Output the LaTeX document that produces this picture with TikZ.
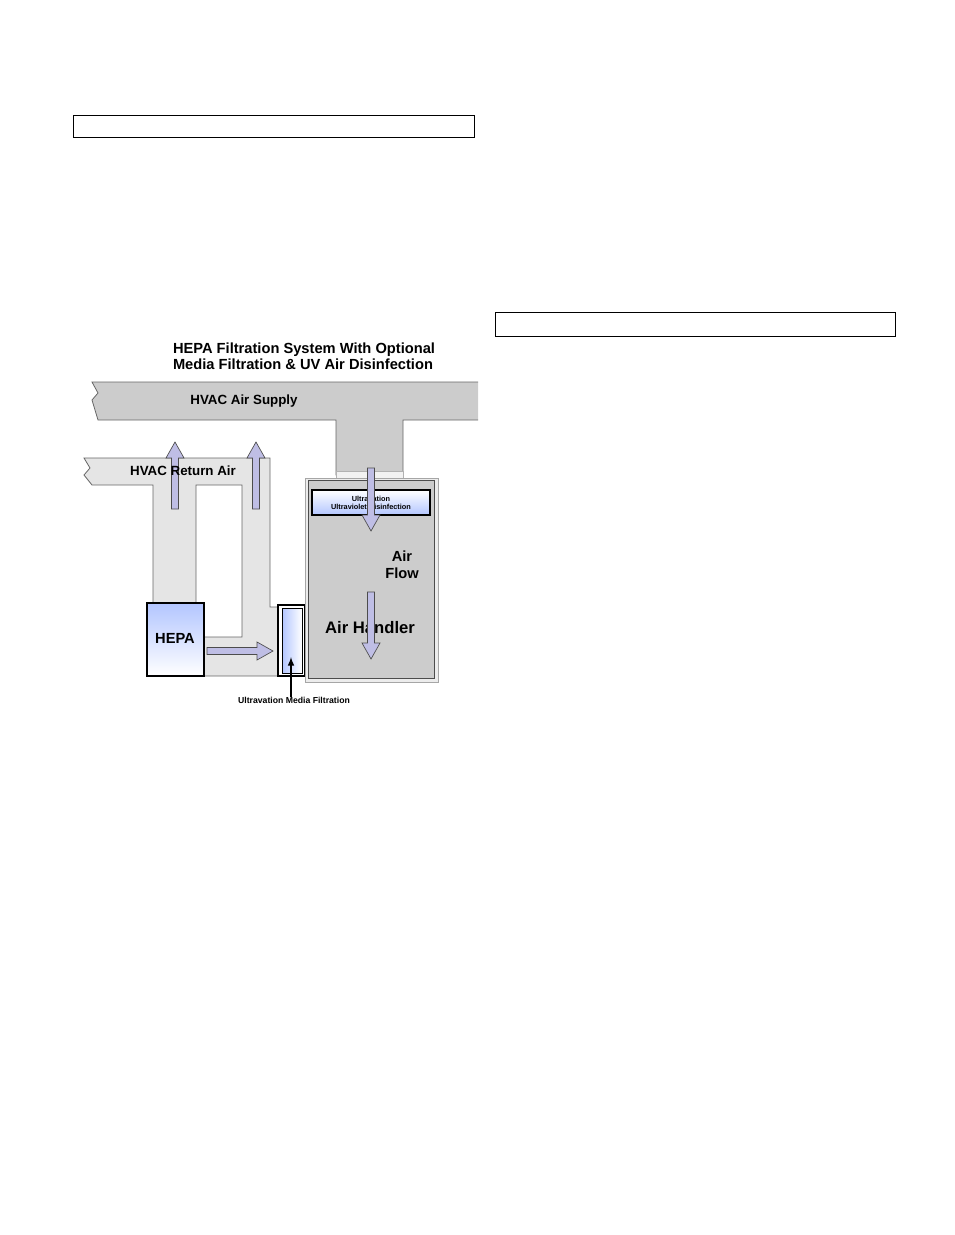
\documentclass[tikz,border=0pt]{standalone}
\usepackage{fontspec}
\setmainfont{Liberation Sans}
\begin{document}
\begin{tikzpicture}[x=0.75pt,y=-0.75pt,
  duct/.style={fill=#1,draw=gray!80!black,line width=0.6},
  lbl/.style={font=\bfseries,inner sep=0},
  blk/.style={draw=black,line width=0.7}]
\useasboundingbox (0,0) rectangle (954,1235);
\node[draw,minimum width=401*0.75pt,minimum height=22*0.75pt,anchor=north west] (b1) at (73,115) {};
\node[draw,minimum width=400*0.75pt,minimum height=24*0.75pt,anchor=north west] (b2) at (495,312) {};
% supply duct
\draw[duct=gray!40] (478,382) -- (92,382) -- (98,393) -- (92,400) -- (98,420) -- (336,420) -- (336,475) -- (403,475) -- (403,420) -- (478,420);
\fill[white!90!gray,draw=gray!60] (336,471) rectangle (403,478);
% return duct
\draw[duct=gray!20] (84,458) -- (270,458) -- (270,607) -- (278,607) -- (278,676) -- (204,676) -- (204,637) -- (242,637) -- (242,485) -- (196,485) -- (196,603) -- (153,603) -- (153,485) -- (92,485) -- (84,475) -- (90,468) -- cycle;
% HEPA
\shade[top color=cyan!25!blue!30,bottom color=white] (147,603) rectangle (204,676);
\draw[line width=1.5] (147,603) rectangle (204,676);
\node[lbl,font=\bfseries\fontsize{11}{13}\selectfont] (hepa) at (175,638) {HEPA};
% filter
\draw[line width=1] (278,605) rectangle (305,676);
\shade[left color=cyan!25!blue!30,right color=white] (282,608) rectangle (302,673);
\draw (282,608) rectangle (302,673);
% air handler
\draw[fill=gray!15,draw=gray!70] (305,478) rectangle (438,682);
\draw[fill=gray!40,draw=gray!60!black] (308,480) rectangle (434,678);
\shade[top color=white,bottom color=cyan!25!blue!30] (312,490) rectangle (430,515);
\draw[line width=1] (312,490) rectangle (430,515);
\node[lbl,font=\bfseries\fontsize{5.5}{6.5}\selectfont,align=center] (uv) at (371,503) {Ultravation\\Ultraviolet Disinfection};
\node[lbl,font=\bfseries\fontsize{12.5}{14}\selectfont] (ah) at (370,628) {Air Handler};
\node[lbl,font=\bfseries\fontsize{11}{12.5}\selectfont,align=center] (af) at (402,565) {Air\\Flow};
% block arrows
\newcommand{\blockarr}[4]{%
 \begin{scope}[shift={(#1,#2)},rotate=#3]
 \draw[fill=cyan!20!blue!25,draw=gray!60!black,line width=0.5]
  (0,-3.5) -- (#4-16,-3.5) -- (#4-16,-9) -- (#4,0) -- (#4-16,9) -- (#4-16,3.5) -- (0,3.5) -- cycle;
 \end{scope}}
\blockarr{175}{509}{90}{67}
\blockarr{256}{509}{90}{67}
\blockarr{207}{651}{0}{66}
\blockarr{371}{468}{-90}{63}
\blockarr{371}{592}{-90}{67}
\node[lbl,font=\bfseries\fontsize{10}{12}\selectfont] (sup) at (244,401) {HVAC Air Supply};
\node[lbl,font=\bfseries\fontsize{10}{12}\selectfont] (ret) at (183,471) {HVAC Return Air};
\node[lbl,font=\bfseries\fontsize{11}{12}\selectfont,align=left] (title) at (304,356) {HEPA Filtration System With Optional\\Media Filtration \& UV Air Disinfection};
\node[lbl,font=\bfseries\fontsize{6.5}{8}\selectfont] (mf) at (294,700) {Ultravation Media Filtration};
\coordinate (tip) at (291,657);
\draw[-latex,line width=1.2] (mf.north -| tip) -- (tip);
\end{tikzpicture}
\end{document}
